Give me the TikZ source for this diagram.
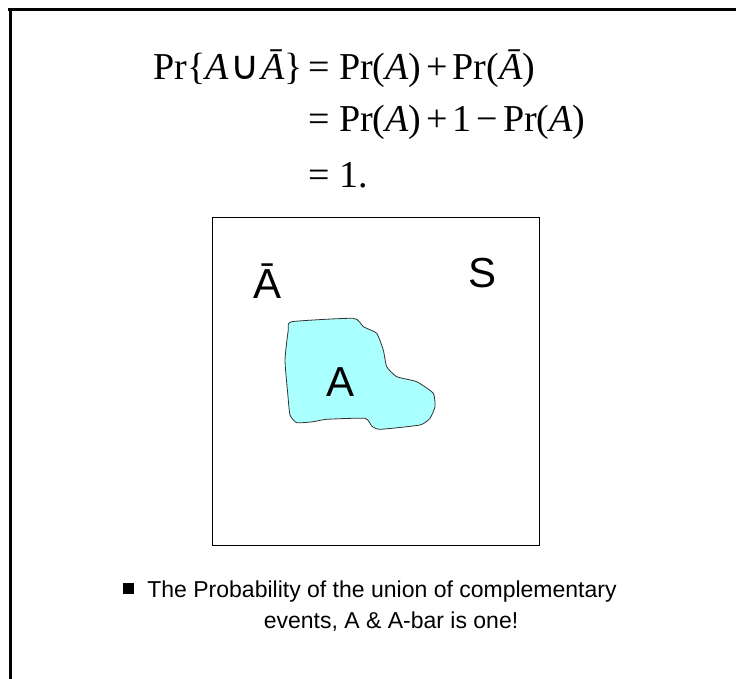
\documentclass[tikz,border=0pt]{standalone}
\usepackage{fontspec}
\setmainfont{Liberation Serif}
\setsansfont{Liberation Sans}
\newfontfamily\cupfont{DejaVu Sans}
\usetikzlibrary{positioning}
\definecolor{RegionCyan}{RGB}{170,255,255}
\definecolor{EdgeGray}{RGB}{50,50,50}
\newcommand{\evA}{\textit{A}}
\newcommand{\evAbar}{\textit{Ā}}
\newcommand{\evcup}{\hspace{0.04em}{\cupfont\fontsize{40}{40}\selectfont ∪}\hspace{0.04em}}
\newcommand{\tsp}{\hspace{0.13em}}
\tikzset{
  eqtext/.style={inner sep=0pt,font=\fontsize{38}{44}\selectfont},
  setlabel/.style={inner sep=0pt,anchor=base,font=\sffamily\fontsize{42}{48}\selectfont},
  notetext/.style={inner sep=0pt,anchor=base,font=\sffamily\fontsize{23}{28}\selectfont},
  bulletbox/.style={fill=black,inner sep=0pt,minimum size=11pt}
}

\begin{document}
\begin{tikzpicture}[x=1pt,y=-1pt]
    \useasboundingbox (0,0) rectangle (736,679);
    \draw[line width=3pt] (8,10)--(736,10);
    \draw[line width=3pt] (10,10)--(10,679);
    \node[eqtext,anchor=base east] (eqlhs) at (303,80) {Pr\{\evA\evcup\evAbar\}};
    \node[eqtext,anchor=base west] (eqone) at (308,80) {= Pr(\evA)\tsp+\tsp Pr(\evAbar)};
    \node[eqtext,anchor=base west] (eqtwo) at (308,132) {= Pr(\evA)\tsp+\tsp 1\tsp−\tsp Pr(\evA)};
    \node[eqtext,anchor=base west] (eqthree) at (308,188) {= 1.};
    \node[draw,line width=1pt,minimum size=327pt,inner sep=0pt] (boxS) at (375.5,381.5) {};
    \draw[fill=RegionCyan,draw=EdgeGray,line width=0.8pt] plot[smooth cycle,tension=0.3] coordinates {
      (291.7,321.7) (353.3,318.3) (363.3,326.7) (376.7,333.3) (383.3,350) (386.7,366.7)
      (396.7,376.7) (416.7,381.7) (433.3,393.3) (435,406.7) (430,418.3) (420,425)
      (380,429.3) (371.7,426) (365,418.3) (326.7,419.3) (313.3,421.7) (296.7,422.7)
      (290,415) (287.7,393.3) (285,360) (288.3,330)};
    \node[setlabel] (labAbar) at (268,298) {Ā};
    \node[setlabel] (labS) at (483,287) {S};
    \node[setlabel] (labA) at (341,396) {A};
    \node[notetext] (noteone) at (382,597) {The Probability of the union of complementary};
    \node[notetext] (notetwo) at (391,628) {events, A \& A-bar is one!};
    \node[bulletbox,left=13pt of noteone.west,yshift=3pt] (bullet) {};
\end{tikzpicture}
\end{document}
